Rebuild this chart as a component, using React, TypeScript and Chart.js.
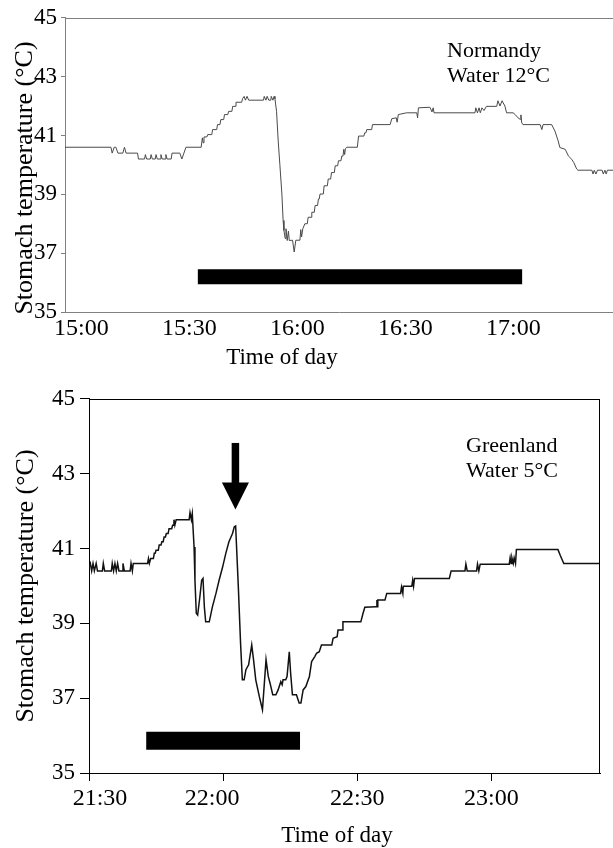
import React, { useEffect, useRef } from "react";
import { Chart, registerables } from "chart.js";

Chart.register(...registerables);

// ---------- DATA ----------
// Top panel (Normandy, water 12 °C): minutes after 15:00
const normandyMinutes = [
  -4.56, 8.2, 8.54, 9.11, 9.57, 10.14, 11.5, 11.96, 12.41, 15.6, 15.83, 17.54, 17.77, 18.11, 19.13, 19.36, 19.7, 20.5, 20.73, 21.07,
  21.87, 22.09, 22.44, 23.23, 23.46, 23.8, 24.94, 25.17, 27.33, 27.9, 28.47, 29.04, 33.26, 33.6, 33.82, 34.05, 34.85, 35.08, 36.22, 36.44,
  37.58, 37.81, 38.49, 38.72, 39.52, 39.75, 40.66, 40.89, 41.8, 42.02, 42.71, 42.94, 44.53, 44.76, 45.21, 45.56, 46.01, 46.47, 50.57, 50.79,
  51.25, 51.59, 52.05, 52.62, 52.73, 53.19, 53.53, 53.76, 54.21, 54.67, 55.12, 55.69, 56.03, 56.26, 56.6, 56.83, 57.17, 57.51, 57.74, 58.65,
  59.11, 59.56, 60.7, 60.93, 61.16, 61.5, 62.07, 62.75, 62.98, 63.78, 64.0, 64.69, 64.92, 65.6, 65.83, 66.06, 66.28, 67.2, 67.42, 68.33,
  68.56, 69.24, 69.47, 70.27, 70.5, 71.18, 71.41, 72.09, 72.32, 72.66, 72.89, 73.12, 73.34, 73.69, 76.65, 76.99, 78.47, 78.7, 79.04, 79.27,
  80.63, 80.86, 85.76, 86.22, 87.47, 87.7, 88.04, 90.31, 93.16, 93.39, 93.62, 96.81, 97.38, 97.72, 97.95, 109.33, 109.56, 110.02, 110.47, 110.81,
  111.27, 111.84, 112.52, 115.37, 115.71, 116.28, 116.85, 117.65, 118.1, 119.93, 120.5, 121.29, 121.86, 122.09, 122.32, 122.66, 127.44, 127.9,
  128.24, 130.63, 131.54, 132.0, 132.45, 132.91, 134.39, 135.3, 136.21, 136.78, 137.58, 137.92, 141.79, 142.13, 142.47, 142.93, 143.38, 144.64,
  144.98, 145.43, 145.78, 146.12, 147.67,
];
const normandyTemps = [
  40.6, 40.6, 40.4, 40.6, 40.6, 40.4, 40.4, 40.6, 40.4, 40.4, 40.2, 40.2, 40.35, 40.2, 40.2, 40.35, 40.2, 40.2, 40.35, 40.2,
  40.2, 40.35, 40.2, 40.2, 40.35, 40.2, 40.2, 40.4, 40.4, 40.2, 40.4, 40.6, 40.6, 40.92, 40.75, 40.95, 40.95, 41.03, 41.03, 41.2,
  41.2, 41.37, 41.37, 41.54, 41.54, 41.71, 41.71, 41.82, 41.82, 41.99, 41.99, 42.13, 42.13, 42.25, 42.33, 42.2, 42.33, 42.2, 42.2, 42.33,
  42.2, 42.33, 42.2, 42.2, 42.33, 42.2, 42.33, 42.25, 41.82, 40.81, 40.02, 39.01, 38.11, 37.77, 37.5, 37.83, 37.43, 37.75, 37.43, 37.44,
  37.04, 37.44, 37.44, 37.8, 37.55, 37.83, 38.0, 38.0, 38.22, 38.22, 38.39, 38.39, 38.62, 38.62, 38.84, 38.84, 39.01, 39.01, 39.29, 39.29,
  39.52, 39.52, 39.74, 39.74, 39.97, 39.97, 40.14, 40.14, 40.3, 40.3, 40.53, 40.35, 40.55, 40.6, 40.6, 40.98, 40.98, 41.09, 41.09, 41.2,
  41.2, 41.37, 41.37, 41.57, 41.6, 41.45, 41.71, 41.77, 41.77, 41.6, 41.94, 41.96, 41.8, 41.94, 41.77, 41.77, 41.94, 41.77, 41.94, 41.77,
  41.94, 41.85, 41.99, 41.99, 42.18, 42.0, 42.18, 42.0, 41.77, 41.77, 41.71, 41.6, 41.55, 41.7, 41.43, 41.37, 41.37, 41.2,
  41.37, 41.37, 41.15, 40.98, 40.81, 40.59, 40.53, 40.3, 40.19, 40.08, 39.86, 39.82, 39.82, 39.69, 39.82, 39.69, 39.82, 39.82,
  39.69, 39.82, 39.69, 39.82, 39.82,
];
const normandyTickMinutes = [0, 30, 60, 90, 120];
const normandyTickLabels = ["15:00", "15:30", "16:00", "16:30", "17:00"];
const normandyRange = [-4.56, 147.67];
const normandyBarMinutes = [32.34, 122.43];
const normandyBarTemp = 36.2;
const normandyNote = ["Normandy", "Water 12°C"];

// Bottom panel (Greenland, water 5 °C): minutes after 21:30
const greenlandMinutes = [
  0, 0.3, 0.6, 0.9, 1.2, 1.6, 1.9, 3.0, 3.2, 3.5, 5.0, 5.2, 5.5, 5.8, 6.1, 6.4, 6.7, 7.4, 7.6, 7.9,
  9.2, 9.4, 9.7, 9.9, 10.2, 13.1, 13.3, 13.5, 13.8, 14.4, 14.6, 14.8, 15.0, 15.5, 15.7, 16.1, 16.3, 16.6, 16.8, 17.1,
  17.3, 17.7, 17.9, 18.5, 18.7, 18.9, 19.0, 19.2, 19.5, 22.4, 22.6, 22.9, 23.1, 23.5, 23.7, 24.0, 24.3, 24.8, 25.2, 25.5,
  25.8, 26.1, 26.9, 27.6, 28.4, 29.1, 29.9, 30.6, 31.3, 32.1, 32.5, 32.8, 33.4, 33.9, 34.3, 34.7, 35.1, 35.7, 36.4, 36.8,
  37.3, 38.1, 38.8, 39.3, 39.6, 40.1, 40.5, 41.1, 41.8, 42.3, 42.9, 43.2, 43.4, 44.0, 44.3, 44.8, 45.1, 45.5, 46.4, 47.0,
  47.4, 47.9, 48.5, 49.3, 49.8, 50.5, 50.9, 51.5, 52.0, 54.3, 54.6, 55.5, 55.7, 56.6, 56.8, 60.8, 61.3, 61.7, 64.2, 64.4,
  64.5, 64.6, 66.2, 66.6, 69.7, 69.9, 70.2, 70.3, 72.2, 72.4, 72.6, 72.8, 80.6, 81.0, 84.1, 84.3, 84.6, 86.7, 86.9, 87.2,
  87.5, 94.0, 94.2, 94.4, 94.6, 94.9, 95.1, 95.4, 95.6, 104.9, 105.4, 106.2, 114.3,
];
const greenlandTemps = [
  40.5, 40.6, 40.4, 40.6, 40.4, 40.6, 40.4, 40.4, 40.6, 40.4, 40.4, 40.6, 40.4, 40.6, 40.4, 40.6, 40.4, 40.4, 40.6, 40.4,
  40.4, 40.6, 40.4, 40.6, 40.6, 40.6, 40.73, 40.6, 40.73, 40.73, 40.87, 40.87, 40.95, 40.95, 41.09, 41.09, 41.18, 41.18, 41.31, 41.31,
  41.4, 41.4, 41.53, 41.53, 41.62, 41.62, 41.77, 41.62, 41.77, 41.77, 41.96, 41.77, 41.93, 41.04, 40.15, 39.27, 39.22, 39.71, 40.15, 40.2,
  39.44, 39.04, 39.04, 39.44, 39.8, 40.15, 40.51, 40.87, 41.18, 41.4, 41.58, 41.6, 39.98, 38.47, 37.49, 37.49, 37.76, 37.89, 38.42, 38.03,
  37.49, 37.04, 36.69, 37.53, 38.03, 37.58, 37.4, 37.09, 37.09, 37.22, 37.44, 37.36, 37.49, 37.49, 37.58, 38.24, 37.67, 37.09, 37.09, 36.87,
  36.87, 37.22, 37.31, 37.58, 37.98, 38.11, 38.2, 38.24, 38.42, 38.42, 38.6, 38.64, 38.82, 38.82, 39.04, 39.04, 39.27, 39.43, 39.44, 39.62,
  39.44, 39.62, 39.62, 39.8, 39.8, 39.97, 39.8, 39.99, 39.99, 40.15, 39.99, 40.2, 40.2, 40.4, 40.4, 40.58, 40.4, 40.4, 40.58, 40.4,
  40.58, 40.58, 40.75, 40.6, 40.75, 40.6, 40.75, 40.6, 40.97, 40.97, 40.82, 40.6, 40.6,
];
const greenlandTickMinutes = [0, 30, 60, 90];
const greenlandTickLabels = ["21:30", "22:00", "22:30", "23:00"];
const greenlandRange = [0, 114.3];
const greenlandBarMinutes = [12.8, 47.2];
const greenlandBarTemp = 35.86;
const greenlandArrowMinute = 32.75;
const greenlandArrowTemps = [43.82, 42.04]; // shaft top, tip
const greenlandNote = ["Greenland", "Water 5°C"];

const tempRange = [35, 45];
const tempTicks = [35, 37, 39, 41, 43, 45];
const yTitle = "Stomach temperature (°C)";
const xTitle = "Time of day";

// ---------- STYLE ----------
const SERIF = '"Liberation Serif", "Times New Roman", Times, serif';

type Panel = {
  height: number;
  area: { left: number; top: number; right: number; bottom: number };
  minutes: number[];
  temps: number[];
  range: number[];
  tickMinutes: number[];
  tickLabels: string[];
  barMinutes: number[];
  barTemp: number;
  barThickness: number;
  note: string[];
  noteX: number;
  noteBaselines: number[];
  lineColor: string;
  lineWidth: number;
  axisColor: string;
  xTickLen: number;
  yTickLen: number;
  yLabelPad: number;
  labelShifts: number[];
  xLabelBaseline: number;
  xTitleX: number;
  xTitleBaseline: number;
  yTitleX: number;
  yTitleY: number;
  rightBorder: boolean;
  arrow?: { minute: number; temps: number[]; headW: number; headH: number; shaftW: number };
};

const topPanel: Panel = {
  height: 380,
  area: { left: 65, top: 16, right: 613, bottom: 312 },
  minutes: normandyMinutes,
  temps: normandyTemps,
  range: normandyRange,
  tickMinutes: normandyTickMinutes,
  tickLabels: normandyTickLabels,
  barMinutes: normandyBarMinutes,
  barTemp: normandyBarTemp,
  barThickness: 15,
  note: normandyNote,
  noteX: 447,
  noteBaselines: [57, 82],
  lineColor: "#4a4a4a",
  lineWidth: 1,
  axisColor: "#808080",
  xTickLen: 0,
  yTickLen: 4,
  yLabelPad: 4,
  labelShifts: [0, 0, 0, 0, 0],
  xLabelBaseline: 335,
  xTitleX: 282,
  xTitleBaseline: 364,
  yTitleX: 25,
  yTitleY: 178,
  rightBorder: false,
};

const bottomPanel: Panel = {
  height: 468,
  area: { left: 89, top: 18, right: 600, bottom: 393 },
  minutes: greenlandMinutes,
  temps: greenlandTemps,
  range: greenlandRange,
  tickMinutes: greenlandTickMinutes,
  tickLabels: greenlandTickLabels,
  barMinutes: greenlandBarMinutes,
  barTemp: greenlandBarTemp,
  barThickness: 18,
  note: greenlandNote,
  noteX: 466,
  noteBaselines: [72, 97],
  lineColor: "#111111",
  lineWidth: 1.5,
  axisColor: "#000000",
  xTickLen: 8,
  yTickLen: 9,
  yLabelPad: 5,
  labelShifts: [11, -11, 0, 0],
  xLabelBaseline: 425,
  xTitleX: 337,
  xTitleBaseline: 462,
  yTitleX: 26.5,
  yTitleY: 206,
  rightBorder: true,
  arrow: { minute: greenlandArrowMinute, temps: greenlandArrowTemps, headW: 27, headH: 27, shaftW: 7.5 },
};

function decorPlugin(p: Panel) {
  return {
    id: "decor",
    afterDraw(chart: any) {
      const ctx: CanvasRenderingContext2D = chart.ctx;
      const a = chart.chartArea;
      const xs = chart.scales.x;
      const ys = chart.scales.y;
      ctx.save();
      // frame (top + optional right)
      ctx.strokeStyle = p.axisColor;
      ctx.lineWidth = 1;
      ctx.beginPath();
      const ty = Math.round(a.top) + 0.5;
      ctx.moveTo(a.left, ty);
      ctx.lineTo(a.right, ty);
      if (p.rightBorder) {
        const rx = Math.round(a.right) - 0.5;
        ctx.moveTo(rx, ty);
        ctx.lineTo(rx, a.bottom);
      }
      ctx.stroke();

      // arrow
      if (p.arrow) {
        const ar = p.arrow;
        const x = xs.getPixelForValue(ar.minute);
        const yTop = ys.getPixelForValue(ar.temps[0]);
        const yTip = ys.getPixelForValue(ar.temps[1]);
        ctx.fillStyle = "#000";
        ctx.fillRect(x - ar.shaftW / 2, yTop, ar.shaftW, yTip - ar.headH - yTop + 1);
        ctx.beginPath();
        ctx.moveTo(x - ar.headW / 2, yTip - ar.headH);
        ctx.lineTo(x + ar.headW / 2, yTip - ar.headH);
        ctx.lineTo(x, yTip);
        ctx.closePath();
        ctx.fill();
      }

      ctx.fillStyle = "#000";
      // x tick labels
      ctx.font = `24px ${SERIF}`;
      ctx.textAlign = "center";
      ctx.textBaseline = "alphabetic";
      p.tickMinutes.forEach((m, i) => {
        const x = xs.getPixelForValue(m) + (p.labelShifts[i] || 0);
        ctx.fillText(p.tickLabels[i], x, p.xLabelBaseline);
      });
      // x title
      ctx.font = `23px ${SERIF}`;
      ctx.fillText(xTitle, p.xTitleX, p.xTitleBaseline);
      // y title
      ctx.save();
      ctx.translate(p.yTitleX, p.yTitleY);
      ctx.rotate(-Math.PI / 2);
      ctx.font = `26px ${SERIF}`;
      ctx.textBaseline = "middle";
      ctx.fillText(yTitle, 0, 0);
      ctx.restore();
      // note
      ctx.font = `22px ${SERIF}`;
      ctx.textAlign = "left";
      p.note.forEach((t, i) => ctx.fillText(t, p.noteX, p.noteBaselines[i]));
      ctx.restore();
    },
  };
}

function makeChart(canvas: HTMLCanvasElement, p: Panel) {
  return new Chart(canvas, {
    type: "line",
    data: {
      datasets: [
        {
          data: p.minutes.map((m, i) => ({ x: m, y: p.temps[i] })),
          borderColor: p.lineColor,
          borderWidth: p.lineWidth,
          pointRadius: 0,
          tension: 0,
          fill: false,
        },
        {
          data: p.barMinutes.map((m) => ({ x: m, y: p.barTemp })),
          borderColor: "#000",
          borderWidth: p.barThickness,
          borderCapStyle: "butt",
          pointRadius: 0,
          fill: false,
        },
      ],
    } as any,
    options: {
      animation: false,
      responsive: false,
      events: [],
      layout: { padding: { top: p.area.top, left: 0, right: 613 - p.area.right, bottom: 0 } },
      plugins: { legend: { display: false }, tooltip: { enabled: false }, title: { display: false } },
      scales: {
        x: {
          type: "linear",
          min: p.range[0],
          max: p.range[1],
          afterBuildTicks: (s: any) => {
            s.ticks = p.tickMinutes.map((v) => ({ value: v }));
          },
          afterFit: (s: any) => {
            s.height = p.height - p.area.bottom;
          },
          ticks: { display: false },
          grid: {
            display: true,
            drawOnChartArea: false,
            drawTicks: p.xTickLen > 0,
            tickLength: p.xTickLen,
            color: p.axisColor,
            tickColor: p.axisColor,
            lineWidth: 1,
          },
          border: { display: true, color: p.axisColor, width: 1 },
        },
        y: {
          type: "linear",
          min: tempRange[0],
          max: tempRange[1],
          afterBuildTicks: (s: any) => {
            s.ticks = tempTicks.map((v) => ({ value: v }));
          },
          afterFit: (s: any) => {
            s.width = p.area.left;
          },
          ticks: {
            color: "#000",
            font: { family: SERIF, size: 23 },
            padding: p.yLabelPad,
            callback: (v: any) => String(v),
          },
          grid: {
            display: true,
            drawOnChartArea: false,
            drawTicks: true,
            tickLength: p.yTickLen,
            color: p.axisColor,
            tickColor: p.axisColor,
            lineWidth: 1,
          },
          border: { display: true, color: p.axisColor, width: 1 },
        },
      },
    } as any,
    plugins: [decorPlugin(p)],
  });
}

export default function App() {
  const topRef = useRef<HTMLCanvasElement>(null);
  const bottomRef = useRef<HTMLCanvasElement>(null);

  useEffect(() => {
    const c1 = makeChart(topRef.current!, topPanel);
    const c2 = makeChart(bottomRef.current!, bottomPanel);
    return () => {
      c1.destroy();
      c2.destroy();
    };
  }, []);

  return (
    <div style={{ position: "absolute", left: 0, top: 0, width: 613, height: 848, background: "#fff" }}>
      <canvas ref={topRef} width={613} height={topPanel.height} style={{ display: "block", width: 613, height: topPanel.height }} />
      <canvas ref={bottomRef} width={613} height={bottomPanel.height} style={{ display: "block", width: 613, height: bottomPanel.height }} />
    </div>
  );
}
